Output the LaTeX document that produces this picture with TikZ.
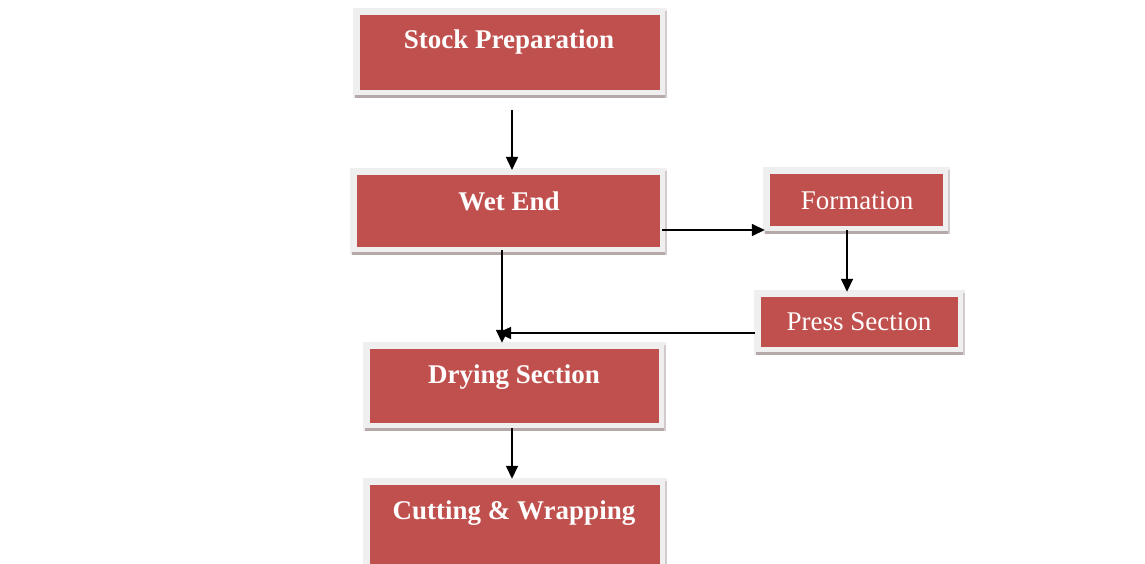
\documentclass[tikz,border=0pt]{standalone}
\usepackage{fontspec}
\setmainfont{Liberation Serif}
\usetikzlibrary{arrows.meta,calc}
\definecolor{boxred}{HTML}{C0504D}
\definecolor{framegray}{HTML}{EFEFEF}
\definecolor{shadowgray}{HTML}{B5A9A9}
\tikzset{
  redbox/.style={fill=boxred, draw=none, inner sep=0pt},
  boldlbl/.style={text=white, font=\fontsize{27}{30}\selectfont\bfseries, inner sep=0pt, anchor=center},
  plainlbl/.style={text=white, font=\fontsize{27}{30}\selectfont, inner sep=0pt, anchor=center},
  arr/.style={-{Triangle[length=13pt,width=12pt]}, line width=1.5pt, black},
}
\newcommand{\flowbox}[5]{% name, cx, cy, w, h
  \fill[framegray] (#2-#4/2-7,#3-#5/2-7) rectangle (#2+#4/2+7,#3+#5/2+8);
  \fill[shadowgray] (#2-#4/2-5,#3+#5/2+5) rectangle (#2+#4/2+7,#3+#5/2+8);
  \fill[shadowgray!60] (#2+#4/2+5,#3-#5/2-4) rectangle (#2+#4/2+7,#3+#5/2+8);
  \node[redbox, minimum width=#4pt, minimum height=#5pt] (#1) at (#2,#3) {};
}
\begin{document}
\begin{tikzpicture}[x=1pt,y=-1pt]
\useasboundingbox (0,0) rectangle (1145,564);
\begin{scope}
\clip (0,0) rectangle (1145,564);
\flowbox{sp}{510}{52.5}{300}{75}
\flowbox{we}{508.5}{211}{303}{72}
\flowbox{fo}{856.5}{200}{173}{52}
\flowbox{ps}{859.5}{322}{197}{50}
\flowbox{ds}{514.5}{386}{289}{74}
\flowbox{cw}{515}{527}{290}{84}
\end{scope}
\node[boldlbl] (tsp) at (509,42) {Stock Preparation};
\node[boldlbl] (twe) at (509,201) {Wet End};
\node[plainlbl] (tfo) at (857,201) {Formation};
\node[plainlbl] (tps) at (859,322) {Press Section};
\node[boldlbl] (tds) at (514,377) {Drying Section};
\node[boldlbl] (tcw) at (514,513) {Cutting \& Wrapping};
% connectors
\coordinate (a1) at ($(sp.south)+(2,20)$);
\coordinate (a2) at (a1 |- 0,170);
\draw[arr] (a1) -- (a2);
\coordinate (b1) at (662,230);
\coordinate (b2) at ($(fo.west |- b1)+(-5,0)$);
\draw[arr] (b1) -- (b2);
\coordinate (c1) at ($(fo.south)+(-9.5,4)$);
\coordinate (c2) at ($(c1 |- ps.north)+(0,-5)$);
\draw[arr] (c1) -- (c2);
\coordinate (d1) at ($(we.south)+(-6.5,3)$);
\coordinate (d2) at ($(d1 |- ds.north)+(0,-6)$);
\draw[arr] (d1) -- (d2);
\coordinate (e1) at ($(ps.west)+(-6,11)$);
\coordinate (e2) at (498,333);
\draw[arr] (e1) -- (e2);
\coordinate (f1) at ($(ds.south)+(-2.5,5)$);
\coordinate (f2) at ($(f1 |- cw.north)+(0,-6)$);
\draw[arr] (f1) -- (f2);
\end{tikzpicture}
\end{document}
